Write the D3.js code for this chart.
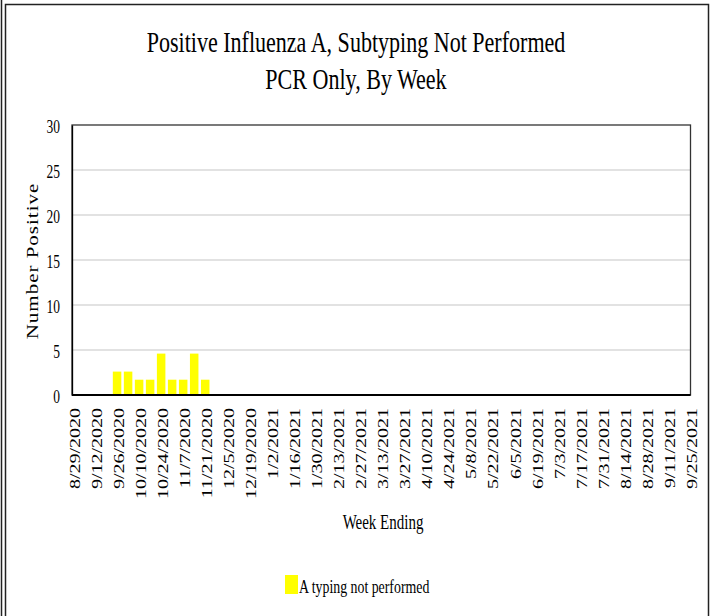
<!DOCTYPE html>
<html>
<head>
<meta charset="utf-8">
<script src="https://cdn.jsdelivr.net/npm/d3@7"></script>
<style>
  body { margin: 0; background: #fff; }
  text { font-family: "Liberation Serif", "Times New Roman", serif; fill: #000; }
</style>
</head>
<body>
<svg id="chart"></svg>
<script>
// chart data
var weeks = ["8/29/2020","9/5/2020","9/12/2020","9/19/2020","9/26/2020","10/3/2020","10/10/2020",
  "10/17/2020","10/24/2020","10/31/2020","11/7/2020","11/14/2020","11/21/2020","11/28/2020",
  "12/5/2020","12/12/2020","12/19/2020","12/26/2020","1/2/2021","1/9/2021","1/16/2021","1/23/2021",
  "1/30/2021","2/6/2021","2/13/2021","2/20/2021","2/27/2021","3/6/2021","3/13/2021","3/20/2021",
  "3/27/2021","4/3/2021","4/10/2021","4/17/2021","4/24/2021","5/1/2021","5/8/2021","5/15/2021",
  "5/22/2021","5/29/2021","6/5/2021","6/12/2021","6/19/2021","6/26/2021","7/3/2021","7/10/2021",
  "7/17/2021","7/24/2021","7/31/2021","8/7/2021","8/14/2021","8/21/2021","8/28/2021","9/4/2021",
  "9/11/2021","9/18/2021","9/25/2021"];
var counts = [0,0,0,0,2.6,2.6,1.7,1.7,4.6,1.7,1.7,4.6,1.7,0,0,0,0,0,0,0,0,0,0,0,0,0,0,0,0,0,
  0,0,0,0,0,0,0,0,0,0,0,0,0,0,0,0,0,0,0,0,0,0,0,0,0,0,0];
var seriesName = "A typing not performed";
var yTicks = [0, 5, 10, 15, 20, 25, 30];
var titleLines = ["Positive Influenza A, Subtyping Not Performed", "PCR Only, By Week"];

var width = 713,
    height = 616,
    sx = 0.75,            // the picture is squeezed sideways
    barColor = "#FFFF00";

var plot = {left: 72, right: 690.5, top: 125, bottom: 395};

var svg = d3.select("#chart")
    .attr("width", width)
    .attr("height", height)
    .attr("font-family", "Liberation Serif");

// outer frame lines
svg.append("line")
    .attr("x1", 1.5).attr("x2", 1.5).attr("y1", 0).attr("y2", height)
    .attr("stroke", "#222").attr("stroke-width", 1.5);
svg.append("rect")
    .attr("x", 5.5).attr("y", 4.5)
    .attr("width", 703).attr("height", 700)
    .attr("fill", "none").attr("stroke", "#222").attr("stroke-width", 1.5);

// title
svg.selectAll(".title")
    .data(titleLines)
    .enter()
    .append("text")
    .attr("class", "title")
    .attr("text-anchor", "middle")
    .attr("font-family", "Liberation Serif")
    .attr("font-size", "30px")
    .attr("transform", function(d, i) { return "translate(356," + (52 + i * 37) + ") scale(0.735,1)"; })
    .text(function(d) { return d; });

var x = d3.scalePoint()
    .domain(weeks)
    .range([73, 690]);

var y = d3.scaleLinear()
    .domain([0, 30])
    .range([plot.bottom, plot.top]);

// gridlines
svg.selectAll(".grid")
    .data(yTicks.filter(function(d) { return d > 0 && d < 30; }))
    .enter()
    .append("line")
    .attr("x1", plot.left).attr("x2", plot.right)
    .attr("y1", function(d) { return y(d); })
    .attr("y2", function(d) { return y(d); })
    .attr("stroke", "#d9d9d9").attr("stroke-width", 1.3);

// plot border
svg.append("rect")
    .attr("x", plot.left).attr("y", plot.top)
    .attr("width", plot.right - plot.left).attr("height", plot.bottom - plot.top)
    .attr("fill", "none").attr("stroke", "#333").attr("stroke-width", 1.3);

// bars
var barW = 8.5;
svg.selectAll(".bar")
    .data(counts)
    .enter()
    .append("rect")
    .attr("class", "bar")
    .attr("x", function(d, i) { return x(weeks[i]) - barW / 2; })
    .attr("y", function(d) { return y(d); })
    .attr("width", barW)
    .attr("height", function(d) { return y(0) - y(d); })
    .attr("fill", barColor);

// y axis
var yAxis = svg.append("g")
    .attr("transform", "translate(" + plot.left + ",0)")
    .call(d3.axisLeft(y).tickValues(yTicks).tickSize(0));
yAxis.select(".domain").attr("stroke", "#000").attr("stroke-width", 1.3);
yAxis.selectAll("text")
    .attr("x", 0)
    .attr("dy", "0.4em")
    .attr("font-size", "18px")
    .attr("font-family", "Liberation Serif")
    .attr("transform", "translate(-12,0) scale(" + sx + ",1)");

// x axis
var xAxis = svg.append("g")
    .attr("transform", "translate(0," + plot.bottom + ")")
    .call(d3.axisBottom(x)
        .tickValues(weeks.filter(function(d, i) { return i % 2 === 0; }))
        .tickSize(0));
xAxis.select(".domain").remove();
xAxis.selectAll("text")
    .attr("x", -13)
    .attr("y", 0)
    .attr("dy", "0.42em")
    .attr("text-anchor", "end")
    .attr("font-size", "20px")
    .attr("font-family", "Liberation Serif")
    .attr("transform", "scale(" + sx + ",1) rotate(-90)");

svg.append("line")
    .attr("x1", plot.left).attr("x2", plot.right)
    .attr("y1", plot.bottom).attr("y2", plot.bottom)
    .attr("stroke", "#000").attr("stroke-width", 2);

// axis titles
svg.append("text")
    .attr("text-anchor", "middle")
    .attr("font-size", "21px")
    .attr("letter-spacing", "1px")
    .attr("transform", "translate(38,261) scale(" + sx + ",1) rotate(-90)")
    .text("Number Positive");

svg.append("text")
    .attr("text-anchor", "middle")
    .attr("font-size", "20px")
    .attr("transform", "translate(383,529) scale(" + sx + ",1)")
    .text("Week Ending");

// legend
var legend = svg.append("g").attr("transform", "translate(285,575)");
legend.append("rect")
    .attr("width", 13).attr("height", 19)
    .attr("fill", barColor);
legend.append("text")
    .attr("font-size", "18px")
    .attr("transform", "translate(14,18) scale(0.77,1)")
    .text(seriesName);
</script>
</body>
</html>
